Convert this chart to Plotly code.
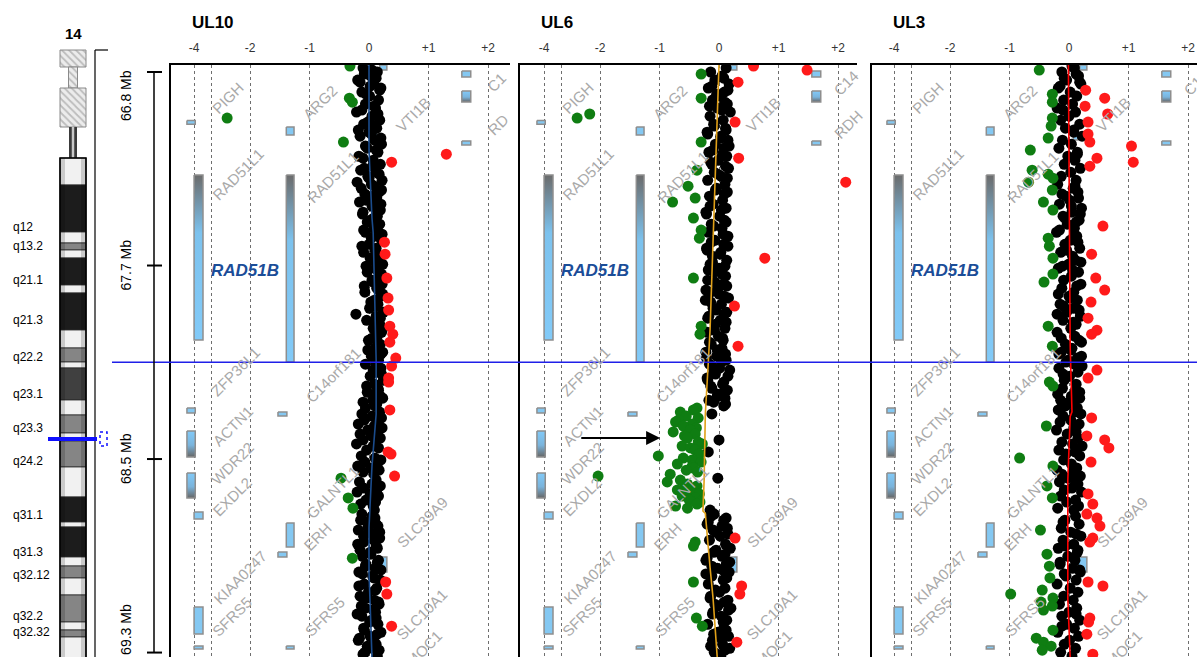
import numpy as np
import plotly.graph_objects as go

W, H = 1197, 657

# ---------------------------------------------------------------------------
# Probe positions on chr14 (Mb) and log2 ratios per sample
# ---------------------------------------------------------------------------
probe_mb = [
    66.815, 66.832, 66.849, 66.866, 66.883, 66.900, 66.917, 66.934, 66.951, 66.968,
    66.985, 67.001, 67.018, 67.035, 67.052, 67.069, 67.086, 67.103, 67.120, 67.137,
    67.154, 67.171, 67.188, 67.205, 67.222, 67.239, 67.256, 67.273, 67.290, 67.307,
    67.324, 67.340, 67.357, 67.374, 67.391, 67.408, 67.425, 67.442, 67.459, 67.476,
    67.493, 67.510, 67.527, 67.544, 67.561, 67.578, 67.595, 67.612, 67.629, 67.646,
    67.663, 67.679, 67.696, 67.713, 67.730, 67.747, 67.764, 67.781, 67.798, 67.815,
    67.832, 67.849, 67.866, 67.883, 67.900, 67.917, 67.934, 67.951, 67.968, 67.985,
    68.002, 68.018, 68.035, 68.052, 68.069, 68.086, 68.103, 68.120, 68.137, 68.154,
    68.171, 68.188, 68.205, 68.222, 68.239,
    68.255, 68.264, 68.272, 68.281, 68.289, 68.298, 68.306, 68.315, 68.323, 68.332,
    68.340, 68.348, 68.357, 68.365, 68.374, 68.382, 68.391, 68.399, 68.408, 68.416,
    68.425, 68.433, 68.442, 68.450, 68.459, 68.467, 68.476, 68.484, 68.493, 68.501,
    68.510, 68.518, 68.527, 68.535, 68.544, 68.552, 68.561, 68.569, 68.577, 68.586,
    68.594, 68.603, 68.611, 68.620, 68.628, 68.637, 68.645, 68.654, 68.662, 68.671,
    68.679, 68.688, 68.696,
    68.713, 68.730, 68.747, 68.764, 68.781, 68.798, 68.815, 68.832, 68.849, 68.866,
    68.883, 68.900, 68.917, 68.934, 68.950, 68.967, 68.984, 69.001, 69.018, 69.035,
    69.052, 69.069, 69.086, 69.103, 69.120, 69.137, 69.154, 69.171, 69.188, 69.205,
    69.222, 69.239, 69.256, 69.273, 69.290, 69.307,
]

ul10_lr = [
    -0.32, 0.05, -0.08, 0.12, -0.15, 0.02, 0.18, -0.05, -0.33, -0.28,
    0.08, -0.12, 0.15, -2.60, -0.02, 0.10, -0.18, 0.04, 0.20, -0.43,
    -0.06, 0.12, 1.30, -0.10, 0.38, 0.06, -0.14, 0.17, 0.00, -0.20,
    0.09, 0.21, -0.07, 0.13, -0.16, 0.05, 0.19, -0.11, 0.08, -0.03,
    0.15, -0.09, 0.22, 0.04, 0.26, -0.12, 0.10, 0.27, 0.02, 0.18,
    -0.05, 0.14, 0.21, 0.30, 0.07, -0.08, 0.16, 0.23, 0.32, 0.03,
    0.12, 0.33, -0.22, 0.19, 0.09, 0.35, 0.22, 0.40, 0.05, 0.35,
    0.14, -0.02, 0.20, 0.45, 0.11, 0.38, 0.07, 0.21, 0.33, 0.33,
    -0.04, 0.16, 0.08, 0.23, -0.10,
    0.10, -0.06, 0.35, 0.18, -0.12, 0.05, 0.21, -0.08, 0.13, -0.18,
    0.09, 0.22, -0.02, 0.15, -0.15, 0.04, 0.19, -0.10, 0.11, -0.21,
    0.07, 0.16, -0.04, 0.32, 0.37, -0.13, 0.10, 0.20, -0.07, 0.14,
    -0.19, 0.03, 0.17, -0.10, 0.08, 0.43, -0.47, 0.12, -0.16, 0.05,
    0.19, -0.09, 0.13, -0.20, 0.02, 0.16, -0.35, -0.05, 0.11, -0.14,
    0.07, -0.27, 0.09,
    -0.12, 0.10, -0.03, 0.15, -0.18, 0.06, 0.18, -0.09, 0.12, -0.15,
    0.03, -0.28, 0.14, -0.06, 0.20, -0.11, 0.08, 0.28, -0.17, 0.11,
    0.30, -0.04, 0.16, -0.13, 0.07, -0.20, 0.12, 0.01, 0.38, -0.08,
    0.14, -0.16, 0.09, -0.03, 0.17, -0.10,
]

ul6_lr = [
    0.58, 1.48, -0.30, 0.08, 0.32, -0.12, 0.15, -0.04, -0.30, 0.10,
    -0.16, 0.05, -2.27, -2.60, 0.27, -0.08, 0.12, -0.19, 0.03, -0.30,
    0.17, -0.10, 0.06, 0.33, -0.14, 0.11, -0.37, -0.02, 0.14, 2.13,
    -0.52, -0.06, 0.09, -0.40, -0.78, -0.15, 0.04, -0.21, -0.43, 0.12,
    -0.09, -0.30, 0.07, -0.33, -0.13, 0.15, -0.20, 0.02, 0.77, -0.11,
    0.10, -0.18, 0.05, -0.43, -0.07, 0.13, -0.22, 0.00, 0.16, -0.14,
    0.26, -0.05, 0.09, -0.19, 0.12, -0.30, -0.08, -0.32, 0.06, -0.16,
    0.32, -0.03, 0.11, -0.21, 0.04, -0.12, 0.18, -0.06, -0.20, 0.08,
    -0.14, 0.14, -0.02, 0.10, -0.09,
    0.08, -0.37, -0.43, -0.65, -0.12, -0.55, -0.35, -0.68, -0.73, -0.45,
    -0.60, -0.38, -0.48, -0.77, -0.40, -0.58, -0.53, 0.00, -0.35, -0.28,
    -0.62, -0.48, -0.40, -0.18, -0.33, -1.02, -0.60, -0.45, -0.30, -0.70,
    -0.45, -0.43, -0.55, -0.36, -0.82, -2.05, -0.02, -0.65, -0.87, -0.53,
    -0.37, -0.58, -0.70, -0.48, -0.33, -0.62, -0.40, -0.50, -0.32, -0.37,
    -0.73, -0.53, -0.15,
    -0.08, 0.12, -0.18, 0.05, -0.10, 0.15, 0.27, -0.40, -0.43, -0.05,
    0.10, -0.20, 0.18, -0.12, 0.06, -0.22, 0.13, -0.43, 0.38, -0.06,
    0.35, -0.15, 0.09, -0.02, 0.16, -0.11, -0.38, 0.07, -0.28, 0.12,
    -0.09, 0.04, 0.30, -0.14, 0.10, -0.04,
]

ul3_lr = [
    0.05, -0.50, 0.12, -0.08, 0.18, -0.15, 0.28, -0.28, 0.60, -0.28,
    0.27, -0.10, 0.65, -0.28, 0.32, -0.30, 0.08, 0.32, -0.35, 0.35,
    1.05, -0.65, 0.14, 0.47, 1.08, 0.35, -0.62, -0.35, -0.27, -0.68,
    0.10, -0.28, -0.12, 0.16, -0.43, 0.04, -0.27, 0.19, -0.07, 0.12,
    0.57, -0.16, 0.09, -0.35, 0.15, -0.33, -0.04, 0.38, -0.27, 0.20,
    -0.11, 0.06, -0.27, 0.45, -0.42, 0.13, 0.60, -0.18, 0.02, 0.37,
    -0.09, 0.17, -0.20, 0.32, 0.07, -0.35, 0.47, 0.38, -0.13, 0.21,
    -0.28, 0.03, -0.17, 0.14, -0.05, 0.22, 0.47, -0.10, 0.32, -0.33,
    -0.27, 0.11, -0.19, 0.18, 0.00,
    -0.06, 0.14, -0.18, 0.09, 0.20, -0.10, 0.38, 0.03, -0.15, 0.17,
    -0.38, 0.08, -0.21, 0.12, -0.03, 0.30, 0.15, 0.60, -0.12, 0.06,
    0.22, 0.67, -0.17, 0.10, -0.05, 0.18, -0.83, -0.09, 0.37, 0.04,
    -0.27, 0.13, -0.20, 0.07, -0.12, 0.19, -0.02, 0.10, -0.16, 0.15,
    -0.37, 0.05, -0.08, 0.21, 0.32, -0.14, -0.28, 0.11, -0.04, 0.40,
    0.16, -0.19, 0.08,
    0.30, 0.47, -0.10, 0.52, -0.48, 0.12, 0.40, 0.35, -0.06, 0.15,
    -0.37, 0.09, -0.15, -0.33, 0.18, -0.08, -0.32, 0.32, 0.57, -0.45,
    -0.98, -0.27, -0.47, -0.28, -0.43, 0.12, 0.35, 0.33, -0.12, -0.27,
    0.30, -0.55, -0.43, -0.30, -0.45, 0.40,
]

# Second probe set interleaved with the first (outside the dense tile)
probe2_mb = [
    66.823, 66.840, 66.857, 66.874, 66.891, 66.908, 66.925, 66.942, 66.959, 66.976,
    66.993, 67.010, 67.027, 67.044, 67.061, 67.078, 67.095, 67.112, 67.129, 67.146,
    67.163, 67.180, 67.197, 67.214, 67.231, 67.248, 67.265, 67.282, 67.299, 67.316,
    67.333, 67.349, 67.366, 67.383, 67.400, 67.417, 67.434, 67.451, 67.468, 67.485,
    67.502, 67.519, 67.536, 67.553, 67.570, 67.587, 67.604, 67.621, 67.638, 67.655,
    67.672, 67.688, 67.705, 67.722, 67.739, 67.756, 67.773, 67.790, 67.807, 67.824,
    67.841, 67.858, 67.875, 67.892, 67.909, 67.926, 67.943, 67.960, 67.977, 67.994,
    68.011, 68.027, 68.044, 68.061, 68.078, 68.095, 68.112, 68.129, 68.146, 68.163,
    68.180, 68.197, 68.214, 68.231, 68.247,
    68.722, 68.739, 68.756, 68.773, 68.790, 68.807, 68.824, 68.841, 68.858, 68.875,
    68.892, 68.909, 68.926, 68.943, 68.959, 68.976, 68.993, 69.010, 69.027, 69.044,
    69.061, 69.078, 69.095, 69.112, 69.129, 69.146, 69.163, 69.180, 69.197, 69.214,
    69.231, 69.248, 69.265, 69.282, 69.299, 69.315,
]

ul10_lr2 = [
    -0.10, 0.14, 0.03, -0.19, 0.08, 0.20, -0.12, 0.01, 0.16, -0.06,
    0.11, -0.21, 0.05, 0.18, -0.09, 0.13, 0.00, -0.15, 0.09, 0.21,
    -0.03, 0.15, -0.17, 0.07, 0.19, -0.08, 0.12, -0.02, 0.22, 0.04,
    -0.13, 0.17, 0.06, -0.05, 0.20, 0.10, -0.10, 0.14, 0.02, 0.18,
    0.08, -0.06, 0.16, 0.21, 0.00, 0.12, -0.09, 0.19, 0.07, 0.23,
    0.11, -0.03, 0.17, 0.05, 0.22, 0.13, -0.07, 0.20, 0.09, 0.15,
    0.01, 0.24, 0.12, -0.04, 0.18, 0.07, 0.21, 0.14, -0.01, 0.19,
    0.10, 0.23, 0.04, 0.16, -0.06, 0.20, 0.12, 0.02, 0.24, 0.09,
    0.15, -0.03, 0.19, 0.06, 0.13,
    0.05, -0.14, 0.12, -0.02, 0.18, -0.09, 0.08, -0.19, 0.14, 0.02,
    -0.11, 0.16, -0.05, 0.10, -0.17, 0.06, 0.19, -0.08, 0.13, -0.01,
    -0.15, 0.09, 0.17, -0.06, 0.11, -0.12, 0.04, 0.15, -0.09, 0.20,
    0.02, -0.18, 0.12, 0.06, -0.07, 0.14,
]

ul6_lr2 = [
    0.12, -0.14, 0.05, -0.07, 0.17, -0.18, 0.09, 0.02, -0.11, 0.14,
    -0.03, 0.19, -0.15, 0.07, -0.09, 0.11, -0.20, 0.03, 0.15, -0.06,
    0.08, -0.17, 0.13, -0.01, -0.12, 0.16, -0.08, 0.04, -0.19, 0.10,
    -0.04, 0.14, -0.16, 0.06, -0.10, 0.12, -0.22, 0.01, 0.09, -0.13,
    0.05, -0.18, 0.15, -0.07, 0.08, -0.21, 0.03, -0.11, 0.13, -0.15,
    0.00, -0.08, 0.11, -0.19, 0.06, -0.02, -0.14, 0.09, -0.23, 0.04,
    -0.10, 0.13, -0.17, 0.02, -0.06, 0.10, -0.20, -0.01, 0.07, -0.13,
    0.05, -0.22, -0.04, 0.12, -0.16, 0.01, -0.09, 0.15, -0.19, 0.06,
    -0.12, 0.09, -0.03, -0.17, 0.11,
    -0.13, 0.08, -0.20, 0.14, -0.06, 0.02, -0.16, 0.11, 0.19, -0.09,
    0.05, -0.22, 0.12, -0.03, 0.17, -0.12, 0.07, -0.18, 0.10, 0.01,
    -0.14, 0.15, -0.07, 0.20, -0.10, 0.04, 0.13, -0.19, 0.08, -0.02,
    0.16, -0.11, 0.06, 0.18, -0.08, 0.03,
]

ul3_lr2 = [
    0.09, -0.12, 0.16, -0.04, 0.20, -0.18, 0.02, 0.13, -0.09, 0.06,
    -0.20, 0.11, 0.00, -0.14, 0.18, -0.06, 0.08, 0.22, -0.11, 0.04,
    -0.17, 0.14, -0.02, 0.10, -0.08, 0.19, 0.03, -0.13, 0.12, -0.19,
    0.07, 0.15, -0.05, 0.01, -0.16, 0.21, 0.05, -0.10, 0.17, -0.03,
    0.09, -0.21, 0.13, 0.02, -0.07, 0.18, -0.14, 0.06, 0.11, -0.01,
    -0.18, 0.16, 0.04, -0.09, 0.20, -0.12, 0.08, 0.00, 0.14, -0.15,
    0.07, -0.04, 0.19, -0.10, 0.12, 0.03, -0.20, 0.10, 0.17, -0.06,
    0.05, -0.13, 0.21, -0.02, 0.09, -0.17, 0.15, 0.01, -0.08, 0.12,
    -0.11, 0.18, 0.04, -0.14, 0.07,
    0.11, -0.07, 0.17, -0.13, 0.03, 0.20, -0.10, 0.08, -0.18, 0.14,
    -0.02, 0.10, -0.15, 0.06, 0.19, -0.05, 0.12, -0.20, 0.02, 0.15,
    -0.09, 0.07, -0.16, 0.13, 0.00, -0.12, 0.18, -0.04, 0.09, -0.19,
    0.16, 0.01, -0.08, 0.11, -0.14, 0.05,
]

for arr in (ul10_lr, ul6_lr, ul3_lr):
    assert len(arr) == len(probe_mb)
for arr in (ul10_lr2, ul6_lr2, ul3_lr2):
    assert len(arr) == len(probe2_mb)

# Segmentation (smoothed) profile per sample
ul10_seg_mb = [66.81, 67.17, 67.46, 67.52, 68.06, 68.29, 68.51, 68.77, 68.96, 69.32]
ul10_seg_lr = [0.00, 0.00, 0.05, 0.07, 0.12, 0.12, 0.05, 0.00, 0.00, 0.05]
ul6_seg_mb = [66.81, 67.04, 67.33, 67.52, 67.76, 67.93, 68.07, 68.18, 68.29, 68.57,
              68.70, 68.71, 68.81, 68.94, 69.07, 69.25, 69.32]
ul6_seg_lr = [0.00, -0.03, -0.07, -0.10, -0.12, -0.15, -0.18, -0.20, -0.23, -0.25,
              -0.27, -0.23, -0.20, -0.15, -0.10, -0.05, -0.03]
ul3_seg_mb = [66.81, 67.45, 68.00, 68.28, 68.30, 68.57, 69.07, 69.32]
ul3_seg_lr = [-0.01, 0.00, 0.02, 0.05, 0.02, -0.02, -0.02, 0.02]

GAIN, LOSS = 0.25, -0.25
cursor_mb = 68.07

# Mb scale
scale_mb = [66.84, 67.66, 68.48, 69.30]
scale_text = ["66.8 Mb", "67.7 Mb", "68.5 Mb", "69.3 Mb"]
scale_label_mb = [66.942, 67.66, 68.48, 69.204]

# x-axis: log2 ratio ticks
tick_lr = [-4, -3, -2, -1, 0, 1, 2]
tick_text = ["-4", "", "-2", "-1", "0", "+1", "+2"]

# ---------------------------------------------------------------------------
# Gene track (x in track units, y in Mb)
# ---------------------------------------------------------------------------
gene_x0 = [-3.06, -1.39, 1.56, 1.56, 1.56, -2.94, -1.39, 0.18, 0.07, -3.06, -1.53,
           -3.06, -3.06, -2.94, -1.39, -1.53, 0.15, -2.94, -2.94, -1.39, 0.07]
gene_x1 = [-2.92, -1.26, 1.71, 1.71, 1.71, -2.79, -1.26, 0.30, 0.15, -2.92, -1.38,
           -2.92, -2.92, -2.79, -1.26, -1.38, 0.30, -2.79, -2.79, -1.26, 0.15]
gene_mb0 = [67.046, 67.073, 66.836, 66.921, 67.132, 67.276, 67.276, 66.810, 67.098, 68.264,
            68.281, 68.361, 68.539, 68.704, 68.751, 68.874, 68.895, 69.107, 69.272, 69.272, 69.276]
gene_mb1 = [67.061, 67.107, 66.861, 66.967, 67.149, 67.976, 68.069, 66.832, 67.128, 68.285,
            68.298, 68.471, 68.645, 68.734, 68.853, 68.895, 68.959, 69.221, 69.285, 69.285, 69.293]
gene_shade = ["flat", "flat", "flat", "up", "flat", "down", "down", "flat", "flat", "flat",
              "flat", "up", "up", "flat", "flat", "flat", "flat", "flat", "flat", "flat", "flat"]

label_text = ["PIGH", "ARG2", "VTI1B", "RAD51L1", "RAD51L1", "ZFP36L1", "C14orf181",
              "ACTN1", "WDR22", "EXDL2", "GALNTL1", "ERH", "SLC39A9", "KIAA0247",
              "SFRS5", "SFRS5", "SLC10A1", "SMOC1"]
label_x = [-2.37, -0.82, 0.74, -2.20, -0.62, -2.24, -0.61, -2.30, -2.30, -2.30,
           -0.62, -0.86, 0.89, -2.17, -2.30, -0.74, 0.89, 0.86]
label_mb = [66.946, 66.971, 67.018, 67.276, 67.285, 68.111, 68.124, 68.340, 68.497,
            68.637, 68.620, 68.810, 68.747, 68.980, 69.149, 69.149, 69.140, 69.300]
edge_label_x = [2.14, 2.17]
edge_label_mb = [66.884, 67.062]

# ---------------------------------------------------------------------------
# Chromosome 14 ideogram (rows from the top of the drawing)
# ---------------------------------------------------------------------------
p_top = [2, 19, 40]
p_bot = [19, 40, 79]
p_width = [26, 9, 26]
band_top = [110, 137, 184, 195, 202, 210, 237, 245, 282, 300, 314, 320, 352, 367,
            385, 393, 419, 449, 474, 479, 509, 518, 530, 547, 574, 582, 589]
band_bot = [137, 184, 195, 202, 210, 237, 245, 282, 300, 314, 320, 352, 367, 385,
            393, 419, 449, 474, 479, 509, 518, 530, 547, 574, 582, 589, 615]
band_stain = ["w", "k", "w", "g", "w", "k", "w", "k", "w", "g", "w", "d", "w", "g",
              "w", "g", "w", "k", "w", "k", "w", "g", "w", "g", "w", "g", "w"]
band_names = ["q12", "q13.2", "q21.1", "q21.3", "q22.2", "q23.1", "q23.3", "q24.2",
              "q31.1", "q31.3", "q32.12", "q32.2", "q32.32"]
band_name_row = [179, 198, 232, 272, 309, 346, 380, 413, 467, 504, 527, 568, 584]
marker_row = 391

STAIN = {"w": "#f1f1f1", "g": "#858585", "k": "#1c1c1c", "d": "#404040"}

# ---------------------------------------------------------------------------
FONT = "Liberation Sans, Arial, sans-serif"
PX_PER_UNIT = 59.5
LR_BREAKS = [-4.0, -3.0, -2.0, 2.5]
AX_BREAKS = [-2.94, -2.64, -2.0, 2.5]


def to_axis(v):
    return np.interp(np.asarray(v, dtype=float), LR_BREAKS, AX_BREAKS)


panels = [
    dict(name="UL10", xa="x", ya="y", dom=(171, 510), zero=369,
         lr=ul10_lr + ul10_lr2, seg_mb=ul10_seg_mb, seg_lr=ul10_seg_lr, segc="#1b4c8c",
         edge=["C1", "RD"]),
    dict(name="UL6", xa="x2", ya="y2", dom=(520, 857), zero=719,
         lr=ul6_lr + ul6_lr2, seg_mb=ul6_seg_mb, seg_lr=ul6_seg_lr, segc="#e0a018",
         edge=["C14", "RDH"]),
    dict(name="UL3", xa="x3", ya="y3", dom=(872, 1197), zero=1069,
         lr=ul3_lr + ul3_lr2, seg_mb=ul3_seg_mb, seg_lr=ul3_seg_lr, segc="#ff0000",
         edge=["C14", "RDH"]),
]

Y_TOP_PX, Y_BOT_PX = 65, 657
mb_top = 66.84 + (Y_TOP_PX - 72) / 236.0
mb_bot = 66.84 + (Y_BOT_PX - 72) / 236.0

fig = go.Figure()
annotations = []
shapes = []
layout_axes = {}

pos = np.array(probe_mb + probe2_mb)
grad = {
    "down": [[0, "#82caf8"], [0.65, "#7cc2ee"], [1, "#6b6b6b"]],
    "up": [[0, "#666666"], [0.45, "#7ab4dc"], [1, "#82caf8"]],
}

for k, p in enumerate(panels):
    xa, ya = p["xa"], p["ya"]
    lo = (p["dom"][0] - p["zero"]) / PX_PER_UNIT
    hi = (p["dom"][1] - p["zero"]) / PX_PER_UNIT
    sfx = "" if k == 0 else str(k + 1)
    layout_axes["xaxis" + sfx] = dict(
        domain=[p["dom"][0] / W, min(p["dom"][1] / W, 1.0)], range=[lo, hi],
        side="top", anchor=ya, showline=True, linecolor="black", linewidth=1.5,
        ticks="", tickvals=list(to_axis(tick_lr)), ticktext=tick_text,
        tickfont=dict(family=FONT, size=12, color="#333333"), ticklabelstandoff=6,
        showgrid=True, gridcolor="#6e6e6e", griddash="dot", gridwidth=1,
        zeroline=False, fixedrange=True,
    )
    yax = dict(
        domain=[0, (H - Y_TOP_PX) / H], range=[mb_bot, mb_top], anchor=xa,
        showline=True, linecolor="black", linewidth=1.5, ticks="",
        showticklabels=False, showgrid=False, zeroline=False, fixedrange=True,
    )
    if k > 0:
        yax["matches"] = "y"
    layout_axes["yaxis" + sfx] = yax

    # gene models
    for gx0, gx1, gm0, gm1, sh in zip(gene_x0, gene_x1, gene_mb0, gene_mb1, gene_shade):
        tr = dict(
            x=[gx0, gx1, gx1, gx0, gx0], y=[gm0, gm0, gm1, gm1, gm0],
            mode="lines", fill="toself", line=dict(color="#8e8e8e", width=1.5),
            xaxis=xa, yaxis=ya, hoverinfo="skip", showlegend=False,
        )
        if sh == "flat":
            tr["fillcolor"] = "#84c8f2"
        else:
            tr["fillgradient"] = dict(type="vertical", colorscale=grad[sh])
        fig.add_trace(go.Scatter(**tr))

    lr = np.array(p["lr"])
    groups = [
        (lr >= LOSS) & (lr <= GAIN),
        lr < LOSS,
        lr > GAIN,
    ]
    colors = ["#000000", "#0f7d12", "#ff1a1a"]
    for m, c in zip(groups, colors):
        fig.add_trace(go.Scatter(
            x=to_axis(lr[m]), y=pos[m], mode="markers",
            marker=dict(color=c, size=11, symbol="circle", line=dict(width=0)),
            xaxis=xa, yaxis=ya, hoverinfo="skip", showlegend=False,
        ))

    fig.add_trace(go.Scatter(
        x=to_axis(p["seg_lr"]), y=p["seg_mb"], mode="lines",
        line=dict(color=p["segc"], width=1.6), xaxis=xa, yaxis=ya,
        hoverinfo="skip", showlegend=False,
    ))

    # sample title
    annotations.append(dict(
        text="<b>%s</b>" % p["name"], x=(p["dom"][0] + 19) / W, y=1 - 22 / H,
        xref="paper", yref="paper", xanchor="left", yanchor="middle",
        showarrow=False, font=dict(family=FONT, size=17, color="black"),
    ))
    # gene names
    for t, gx, gm in zip(label_text + p["edge"], label_x + edge_label_x,
                         label_mb + edge_label_mb):
        annotations.append(dict(
            text=t, x=gx, y=gm, xref=xa, yref=ya, textangle=-45, showarrow=False,
            xanchor="center", yanchor="middle",
            font=dict(family=FONT, size=15, color="#a9a9a9"),
        ))
    annotations.append(dict(
        text="<b><i>RAD51B</i></b>", x=-2.08, y=67.679, xref=xa, yref=ya,
        showarrow=False, font=dict(family=FONT, size=17, color="#1b4d98"),
    ))

# arrow pointing at the UL6 loss
annotations.append(dict(
    text="", x=-0.99, y=68.391, xref="x2", yref="y2", ax=-2.34, ay=68.391,
    axref="x2", ayref="y2", showarrow=True, arrowhead=2, arrowsize=1.4,
    arrowwidth=2, arrowcolor="black",
))

# selected position across all tracks
shapes.append(dict(type="line", xref="paper", yref="y", x0=112 / W, x1=1,
                   y0=cursor_mb, y1=cursor_mb, line=dict(color="#1f1fe8", width=1.5)))

# Mb scale
shapes.append(dict(type="line", xref="paper", yref="y", x0=154 / W, x1=154 / W,
                   y0=scale_mb[0], y1=scale_mb[-1], line=dict(color="black", width=1.5)))
for mb, t, lm in zip(scale_mb, scale_text, scale_label_mb):
    shapes.append(dict(type="line", xref="paper", yref="y", x0=147 / W, x1=162 / W,
                       y0=mb, y1=mb, line=dict(color="black", width=2)))
    annotations.append(dict(
        text=t, x=126 / W, y=lm, xref="paper", yref="y", textangle=-90,
        xanchor="center", yanchor="middle",
        showarrow=False, font=dict(family=FONT, size=14, color="black"),
    ))

# ---------------------------------------------------------------------------
# Ideogram subplot
# ---------------------------------------------------------------------------
layout_axes["xaxis4"] = dict(domain=[40 / W, 112 / W], range=[-33, 39], visible=False,
                             fixedrange=True, anchor="y4")
layout_axes["yaxis4"] = dict(domain=[0, 1], range=[609, -48], visible=False,
                             fixedrange=True, anchor="x4")

fig.add_trace(go.Bar(
    x=[0, 0, 0], base=p_top, y=[b - t for t, b in zip(p_top, p_bot)], width=p_width,
    marker=dict(color="#e4e4e4", line=dict(color="#8a8a8a", width=1),
                pattern=dict(shape="\\", fgcolor="#8c8c8c", bgcolor="#ececec",
                             size=5, solidity=0.35)),
    xaxis="x4", yaxis="y4", hoverinfo="skip", showlegend=False,
))
fig.add_trace(go.Bar(
    x=[0, 0], base=[79, 79], y=[31, 31], width=[8, 2.5],
    marker=dict(color=["#3a3a3a", "#c8c8c8"], line=dict(width=0)),
    xaxis="x4", yaxis="y4", hoverinfo="skip", showlegend=False,
))
fig.add_trace(go.Bar(
    x=[0] * len(band_top), base=band_top,
    y=[b - t for t, b in zip(band_top, band_bot)], width=26,
    marker=dict(color=[STAIN[s] for s in band_stain], line=dict(color="#2a2a2a", width=0.8)),
    xaxis="x4", yaxis="y4", hoverinfo="skip", showlegend=False,
))
# cylinder shading
fig.add_trace(go.Bar(
    x=[-10.5, 10.5], base=[band_top[0]] * 2, y=[band_bot[-1] - band_top[0]] * 2,
    width=[5, 5], marker=dict(color="rgba(0,0,0,0.16)", line=dict(width=0)),
    xaxis="x4", yaxis="y4", hoverinfo="skip", showlegend=False,
))
fig.add_trace(go.Bar(
    x=[0], base=[band_top[0]], y=[band_bot[-1] - band_top[0]], width=26,
    marker=dict(color="rgba(0,0,0,0)", line=dict(color="black", width=1.6)),
    xaxis="x4", yaxis="y4", hoverinfo="skip", showlegend=False,
))

# bracket beside the ideogram
shapes.append(dict(type="line", xref="x4", yref="y4", x0=22, x1=22, y0=2, y1=612,
                   line=dict(color="black", width=1.2)))
shapes.append(dict(type="line", xref="x4", yref="y4", x0=22, x1=35, y0=2, y1=2,
                   line=dict(color="black", width=1.2)))
# locus marker
shapes.append(dict(type="line", xref="x4", yref="y4", x0=-25, x1=24,
                   y0=marker_row, y1=marker_row, line=dict(color="#1010ff", width=4)))
shapes.append(dict(type="rect", xref="x4", yref="y4", x0=27, x1=34,
                   y0=marker_row - 7, y1=marker_row + 7,
                   line=dict(color="#1010ff", width=1.5, dash="dot")))

for nm, r in zip(band_names, band_name_row):
    annotations.append(dict(
        text=nm, x=11 / W, y=r, xref="paper", yref="y4", xanchor="left",
        yanchor="middle",
        showarrow=False, font=dict(family=FONT, size=12, color="black"),
    ))
annotations.append(dict(
    text="<b>14</b>", x=73 / W, y=1 - 33 / H, xref="paper", yref="paper",
    xanchor="center", yanchor="middle",
    showarrow=False, font=dict(family=FONT, size=15, color="black"),
))

fig.update_layout(
    width=W, height=H, margin=dict(l=0, r=0, t=0, b=0),
    paper_bgcolor="white", plot_bgcolor="white", barmode="overlay",
    showlegend=False, hovermode=False,
    annotations=annotations, shapes=shapes, **layout_axes,
)

fig.write_html("out.html")
